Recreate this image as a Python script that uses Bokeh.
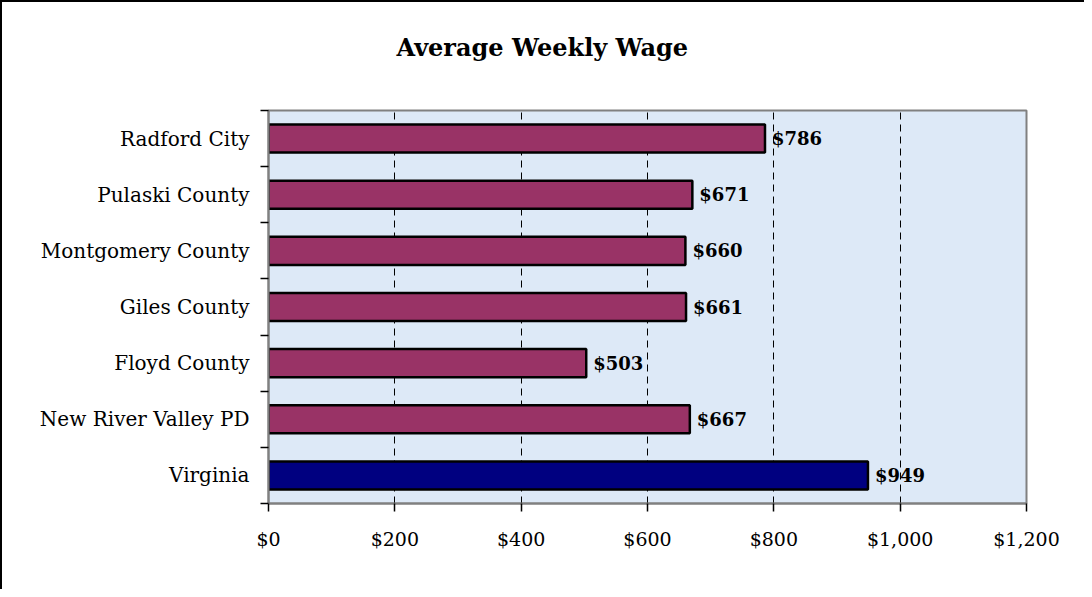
from bokeh.plotting import figure
from bokeh.models import ColumnDataSource, Range1d, FixedTicker, NumeralTickFormatter, LabelSet, Title
from bokeh.embed import file_html
from bokeh.resources import INLINE
from bokeh.core.properties import value

categories = ["Radford City", "Pulaski County", "Montgomery County", "Giles County",
              "Floyd County", "New River Valley PD", "Virginia"]
wages = [786, 671, 660, 661, 503, 667, 949]
bar_colors = ["#993366", "#993366", "#993366", "#993366", "#993366", "#993366", "#000080"]
x_ticks = [0, 200, 400, 600, 800, 1000, 1200]
grid_ticks = [200, 400, 600, 800, 1000]
title_text = "Average Weekly Wage"

FONT = "DejaVu Serif"
n = len(categories)
ypos = [n - i - 0.5 for i in range(n)]
labels = ["${:,}".format(w) for w in wages]

src = ColumnDataSource(dict(y=ypos, w=wages, c=bar_colors, lab=labels))

p = figure(frame_width=758, frame_height=393,
           min_border_left=266, min_border_right=58, min_border_top=108, min_border_bottom=86,
           x_range=Range1d(x_ticks[0], x_ticks[-1]), y_range=Range1d(0, n),
           output_backend="svg", toolbar_location=None)

p.styles = {"border-top": "2px solid black", "border-left": "2px solid black"}

# spacer between title and plot area, then the title itself
p.add_layout(Title(text=" ", text_font_size="10px", standoff=7), "above")
p.add_layout(Title(text=title_text, align="left", offset=128, standoff=57,
                   text_font=FONT, text_font_size="24px", text_font_style="bold",
                   text_color="black"), "above")

p.background_fill_color = "#dde9f7"
p.border_fill_color = "white"
p.outline_line_color = "#808080"
p.outline_line_width = 2

p.hbar(y="y", left=0, right="w", height=0.5, fill_color="c", line_color="black",
       line_width=2.5, source=src)

p.add_layout(LabelSet(x="w", y="y", text="lab", x_offset=7, text_baseline="middle",
                      text_font=value(FONT), text_font_style="bold", text_font_size="18px",
                      text_color="black", source=src))

p.xgrid.ticker = FixedTicker(ticks=grid_ticks)
p.xgrid.grid_line_color = "black"
p.xgrid.grid_line_dash = "7 5"
p.xgrid.grid_line_width = 1
p.ygrid.visible = False

xa = p.xaxis[0]
xa.ticker = FixedTicker(ticks=x_ticks)
xa.formatter = NumeralTickFormatter(format="$0,0")
xa.major_tick_out = 8
xa.major_tick_in = 0
xa.major_tick_line_color = "black"
xa.major_tick_line_width = 1.5
xa.minor_tick_line_color = None
xa.axis_line_color = "#808080"
xa.axis_line_width = 2
xa.major_label_standoff = 16
xa.major_label_text_font = FONT
xa.major_label_text_font_size = "19px"
xa.major_label_text_color = "black"

ya = p.yaxis[0]
ya.ticker = FixedTicker(ticks=ypos, minor_ticks=list(range(n + 1)))
ya.major_label_overrides = {y: c for y, c in zip(ypos, categories)}
ya.major_tick_line_color = None
ya.major_tick_out = 0
ya.major_tick_in = 0
ya.minor_tick_out = 8
ya.minor_tick_in = 0
ya.minor_tick_line_color = "black"
ya.minor_tick_line_width = 1.5
ya.axis_line_color = "#808080"
ya.axis_line_width = 2
ya.major_label_standoff = 11
ya.major_label_text_font = FONT
ya.major_label_text_font_size = "20px"
ya.major_label_text_color = "black"

open("out.html", "w").write(file_html(p, INLINE))
